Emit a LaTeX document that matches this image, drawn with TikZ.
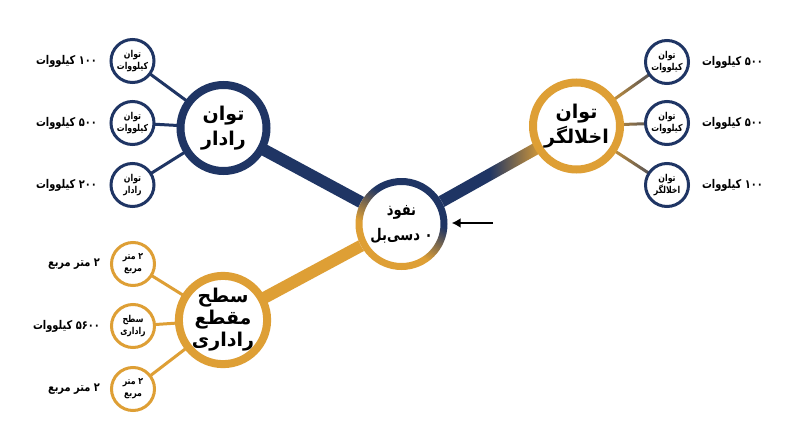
\documentclass[tikz,border=0pt]{standalone}
\usepackage{fontspec}
\usetikzlibrary{arrows.meta,backgrounds,calc}
\TeXXeTstate=1
\newfontfamily\arabicfont[Script=Arabic]{DejaVu Sans}
\newfontfamily\arabicnarrow[Script=Arabic, FakeStretch=0.82]{DejaVu Sans}
\newcommand{\fa}[1]{\beginR #1\endR}
\definecolor{navy}{HTML}{1F3564}
\definecolor{gold}{HTML}{DE9F35}
\pgfdeclarehorizontalshading{navgold}{100bp}{color(0bp)=(navy); color(50bp)=(navy); color(65bp)=(gold); color(100bp)=(gold)}
\pgfdeclarehorizontalshading{goldnav}{100bp}{color(0bp)=(gold); color(45bp)=(gold!85!navy); color(75bp)=(navy); color(100bp)=(navy)}
\pgfdeclareverticalshading{ringsh}{100bp}{color(0bp)=(gold); color(40bp)=(gold); color(60bp)=(navy); color(100bp)=(navy)}
\begin{document}
\begin{tikzpicture}[x=1pt,y=-1pt,
  big/.style={circle, line width=8pt, fill=white, minimum size=86pt, inner sep=0pt, align=center,
    font=\arabicfont\bfseries\fontsize{19}{25}\selectfont},
  small/.style={circle, line width=3pt, fill=white, minimum size=43pt, inner sep=0pt, align=center,
    font=\arabicnarrow\bfseries\fontsize{9.5}{12}\selectfont},
  lbl/.style={inner sep=0pt, font=\arabicnarrow\bfseries\fontsize{12}{14}\selectfont},
  thin/.style={line width=3pt}]
\useasboundingbox (0,0) rectangle (800,447);
% main nodes
\node[circle, fill=white, minimum size=92pt, inner sep=0pt, align=center,
  font=\arabicnarrow\bfseries\fontsize{16}{25}\selectfont] (C) at (401.5,224) {\fa{نفوذ}\\\fa{۰ دسی^^^^200cبل}};
\shade[shading=ringsh, shading angle=-30, even odd rule]
  (C.center) circle[radius=46pt] (C.center) circle[radius=39pt];
\node[big, draw=navy] (R1) at (223.5,128) {\fa{توان}\\\fa{رادار}};
\node[big, draw=gold, minimum size=87pt] (R2) at (576.5,126) {\fa{توان}\\\fa{اخلالگر}};
\node[big, draw=gold, font=\arabicfont\bfseries\fontsize{19}{22}\selectfont] (R3) at (223,320) {\fa{سطح}\\\fa{مقطع}\\\fa{راداری}};
% small circles
\node[small, draw=navy] (a1) at (132.5,61) {\fa{توان}\\\fa{کیلووات}};
\node[small, draw=navy] (a2) at (132.5,123) {\fa{توان}\\\fa{کیلووات}};
\node[small, draw=navy] (a3) at (132.5,185) {\fa{توان}\\\fa{رادار}};
\node[small, draw=gold] (b1) at (133,264) {\fa{۲ متر}\\\fa{مربع}};
\node[small, draw=gold] (b2) at (133,326) {\fa{سطح}\\\fa{راداری}};
\node[small, draw=gold] (b3) at (133,389) {\fa{۲ متر}\\\fa{مربع}};
\node[small, draw=navy] (c1) at (667,62) {\fa{توان}\\\fa{کیلووات}};
\node[small, draw=navy] (c2) at (667,123) {\fa{توان}\\\fa{کیلووات}};
\node[small, draw=navy] (c3) at (667,185) {\fa{توان}\\\fa{اخلالگر}};
% labels
\node[lbl, anchor=east] (la1) at (97,61) {\fa{۱۰۰ کیلووات}};
\node[lbl, anchor=east] (la2) at (97,123) {\fa{۵۰۰ کیلووات}};
\node[lbl, anchor=east] (la3) at (97,185) {\fa{۲۰۰ کیلووات}};
\node[lbl, anchor=east] (lb1) at (100,264) {\fa{۲ متر مربع}};
\node[lbl, anchor=east] (lb2) at (100,326) {\fa{۵۶۰۰ کیلووات}};
\node[lbl, anchor=east] (lb3) at (100,389) {\fa{۲ متر مربع}};
\node[lbl, anchor=east] (lc1) at (763,62) {\fa{۵۰۰ کیلووات}};
\node[lbl, anchor=east] (lc2) at (763,123) {\fa{۵۰۰ کیلووات}};
\node[lbl, anchor=east] (lc3) at (763,185) {\fa{۱۰۰ کیلووات}};
% arrow
\coordinate (A) at (493,223);
\draw[line width=2pt, -{Latex[length=9pt,width=10pt]}, shorten >=4pt] (A) -- (A -| C.east);
% connectors
\begin{pgfonlayer}{background}
\fill[white] (0,0) rectangle (800,447);
\draw[navy, line width=12pt] (R1.center) -- (C.center);
\draw[gold, line width=12pt] (R3.center) -- (C.center);
\path let \p1=($(R2.center)-(C.center)$), \n1={veclen(\x1,\y1)} in
  (C.center) -- (R2.center) node[midway, sloped, rectangle, inner sep=0pt, minimum width=\n1,
    minimum height=12pt, shade, shading=navgold] {};
\foreach \s in {a1,a2,a3} \draw[navy, thin] (\s.center) -- (R1.center);
\foreach \s in {b1,b2,b3} \draw[gold, thin] (\s.center) -- (R3.center);
\foreach \s in {c1,c2,c3}
  \path let \p1=($(\s.center)-(R2.center)$), \n1={veclen(\x1,\y1)} in
    (R2.center) -- (\s.center) node[midway, sloped, rectangle, inner sep=0pt, minimum width=\n1,
      minimum height=3pt, shade, shading=goldnav] {};
\end{pgfonlayer}
\end{tikzpicture}
\end{document}
